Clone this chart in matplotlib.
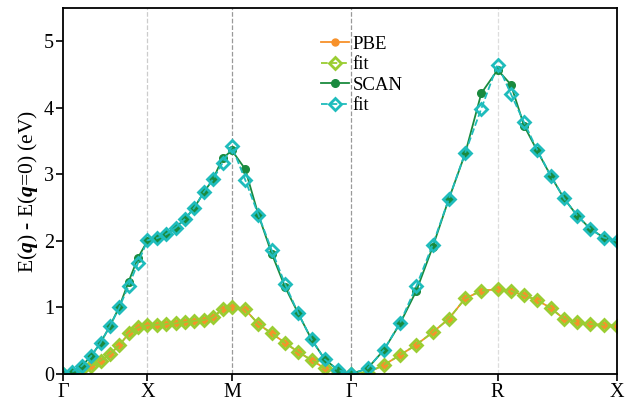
import numpy as np
import matplotlib
matplotlib.use("Agg")
from matplotlib import pyplot as plt

plt.rcParams['font.family'] = ['Liberation Serif', 'DejaVu Serif']
plt.rcParams['mathtext.fontset'] = 'custom'
plt.rcParams['mathtext.rm'] = 'Liberation Serif'
plt.rcParams['mathtext.it'] = 'Liberation Serif:italic'
plt.rcParams['mathtext.bf'] = 'Liberation Serif:bold'
plt.rcParams['mathtext.bfit'] = 'Liberation Serif:bold:italic'

# high-symmetry path G-X-M-G-R-X, segment lengths (2pi/a units), 9 steps each
labels = ['Γ', 'X', 'M', 'Γ', 'R', 'X']
seg_len = [0.5, 0.5, np.sqrt(2) / 2, np.sqrt(3) / 2, np.sqrt(2) / 2]
nstep = 9

pbe = [0, 0.02, 0.07, 0.125, 0.20, 0.30, 0.43, 0.61, 0.70, 0.73,
       0.74, 0.75, 0.76, 0.78, 0.80, 0.81, 0.85, 0.98, 1.00,
       0.97, 0.75, 0.61, 0.47, 0.33, 0.21, 0.085, 0.02, 0.0,
       0.02, 0.135, 0.285, 0.44, 0.625, 0.83, 1.135, 1.25, 1.275,
       1.25, 1.18, 1.11, 0.99, 0.83, 0.78, 0.75, 0.74, 0.72]
pbe_fit = [0, 0.02, 0.07, 0.125, 0.20, 0.30, 0.43, 0.61, 0.70, 0.73,
           0.74, 0.75, 0.76, 0.78, 0.80, 0.81, 0.85, 0.98, 1.00,
           0.97, 0.75, 0.61, 0.47, 0.33, 0.21, 0.085, 0.02, 0.0,
           0.02, 0.135, 0.285, 0.44, 0.625, 0.83, 1.135, 1.25, 1.275,
           1.25, 1.18, 1.11, 0.99, 0.83, 0.78, 0.75, 0.74, 0.72]
scan = [0, 0.035, 0.12, 0.27, 0.47, 0.72, 1.01, 1.39, 1.75, 2.00,
        2.04, 2.10, 2.20, 2.33, 2.50, 2.73, 2.93, 3.24, 3.36,
        3.08, 2.39, 1.81, 1.31, 0.91, 0.52, 0.22, 0.06, 0.0,
        0.085, 0.36, 0.76, 1.25, 1.905, 2.63, 3.31, 4.22, 4.57,
        4.35, 3.73, 3.35, 2.98, 2.64, 2.38, 2.18, 2.05, 2.00]
scan_fit = [0, 0.035, 0.12, 0.27, 0.47, 0.72, 1.00, 1.33, 1.67, 2.01,
            2.04, 2.10, 2.20, 2.33, 2.50, 2.73, 2.93, 3.17, 3.42,
            2.92, 2.39, 1.86, 1.355, 0.91, 0.52, 0.22, 0.06, 0.0,
            0.085, 0.36, 0.77, 1.32, 1.94, 2.63, 3.32, 3.99, 4.65,
            4.21, 3.78, 3.36, 2.98, 2.64, 2.38, 2.18, 2.05, 2.00]

ticks = np.concatenate([[0], np.cumsum(seg_len)])
x = [0.0]
for i in range(len(seg_len)):
    x += list(np.linspace(ticks[i], ticks[i + 1], nstep + 1)[1:])
x = np.array(x)

fig = plt.figure(figsize=(6.39, 4.01), dpi=100)
ax = fig.add_axes([0.0986, 0.0673, 0.867, 0.9127])

line_col = ['#cccccc', '#999999', '#999999', '#dddddd']
for t, c in zip(ticks[1:-1], line_col):
    ax.axvline(t, color=c, ls='--', lw=0.9, zorder=0)

ax.plot(x, pbe, '-', color='#f7912a', marker='o', ms=5, lw=1.3, label='PBE')
ax.plot(x, pbe_fit, '--', color='#9acd32', marker='D', ms=6.5, mfc='none',
        mew=2, lw=1.3, label='fit')
ax.plot(x, scan, '-', color='#1a8a3e', marker='o', ms=5.5, lw=1.3, label='SCAN')
ax.plot(x, scan_fit, '--', color='#1fbcbc', marker='D', ms=6.5, mfc='none',
        mew=2, lw=1.3, label='fit')

ax.set_xlim(ticks[0], ticks[-1])
ax.set_ylim(0, 5.5)
ax.set_xticks(ticks)
ax.set_xticklabels(labels)
ax.set_yticks([0, 1, 2, 3, 4, 5])
ax.tick_params(labelsize=14.5, direction='out', length=5, width=1.2, pad=1.5)
for s in ax.spines.values():
    s.set_linewidth(1.3)
ax.set_ylabel(r'E($\boldsymbol{q}$) - E($\boldsymbol{q}$=0) (eV)', fontsize=15.5, labelpad=3)

ax.legend(loc='upper left', bbox_to_anchor=(0.452, 0.945), frameon=False,
          fontsize=13.5, handlelength=1.5, handletextpad=0.2, labelspacing=0.18,
          borderaxespad=0)

fig.savefig('out.png', dpi=100)
